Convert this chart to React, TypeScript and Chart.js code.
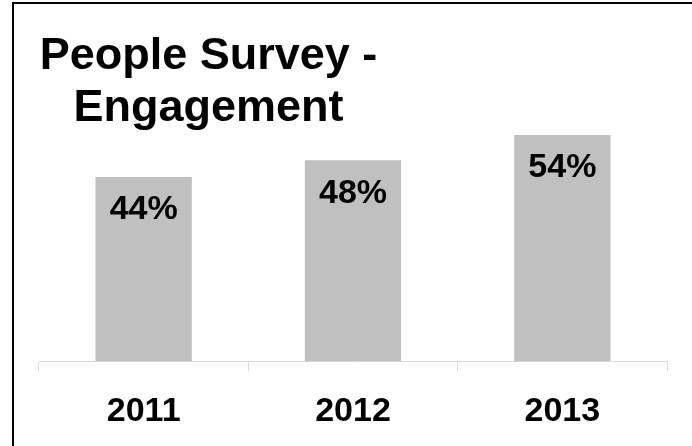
import React, { useEffect, useRef } from "react";
import { Chart, registerables } from "chart.js";

Chart.register(...registerables);

const categories = ["2011", "2012", "2013"];
const engagementValues = [44, 48, 54];
const titleLines = ["People Survey -", "Engagement"];

const FONT = "'Liberation Sans', Arial, sans-serif";

export default function App() {
  const canvasRef = useRef<HTMLCanvasElement | null>(null);

  useEffect(() => {
    const canvas = canvasRef.current;
    if (!canvas) return;

    const framePlugin = {
      id: "frame",
      afterDraw(chart: any) {
        const ctx = chart.ctx;
        ctx.save();
        ctx.fillStyle = "#000000";
        ctx.fillRect(12, 2, 2, 444);
        ctx.fillRect(12, 2, 680, 2);
        ctx.font = `bold 45px ${FONT}`;
        ctx.textAlign = "center";
        ctx.textBaseline = "middle";
        ctx.fillText(titleLines[0], 208.5, 57);
        ctx.fillText(titleLines[1], 208.5, 109);
        ctx.restore();
      },
    };

    const labelPlugin = {
      id: "barLabels",
      afterDatasetsDraw(chart: any) {
        const ctx = chart.ctx;
        const meta = chart.getDatasetMeta(0);
        ctx.save();
        ctx.fillStyle = "#000000";
        ctx.font = `bold 34px ${FONT}`;
        ctx.textAlign = "center";
        ctx.textBaseline = "middle";
        meta.data.forEach((bar: any, i: number) => {
          ctx.fillText(engagementValues[i] + "%", bar.x, bar.y + 33);
        });
        ctx.restore();
      },
    };

    const chart = new Chart(canvas, {
      type: "bar",
      data: {
        labels: categories,
        datasets: [
          {
            data: engagementValues,
            backgroundColor: "#c0c0c0",
            borderWidth: 0,
            barPercentage: 0.46,
            categoryPercentage: 1,
          },
        ],
      },
      options: {
        responsive: false,
        animation: false,
        layout: { padding: { top: 110, left: 39, right: 25, bottom: -6 } },
        plugins: {
          legend: { display: false },
          title: { display: false },
          tooltip: { enabled: false },
        },
        scales: {
          x: {
            grid: {
              display: true,
              drawOnChartArea: false,
              drawTicks: true,
              tickLength: 10,
              offset: true,
              color: "#d9d9d9",
              lineWidth: 1,
            },
            border: { display: true, color: "#d9d9d9", width: 1 },
            ticks: {
              color: "#000000",
              padding: 20,
              font: { family: FONT, size: 34, weight: "bold" },
            },
          },
          y: {
            display: false,
            min: 0,
            max: 60,
          },
        },
      },
      plugins: [framePlugin, labelPlugin],
    });

    return () => chart.destroy();
  }, []);

  return (
    <div style={{ position: "absolute", left: 0, top: 0, width: 692, height: 446, background: "#ffffff" }}>
      <canvas ref={canvasRef} width={692} height={446} style={{ display: "block" }} />
    </div>
  );
}
